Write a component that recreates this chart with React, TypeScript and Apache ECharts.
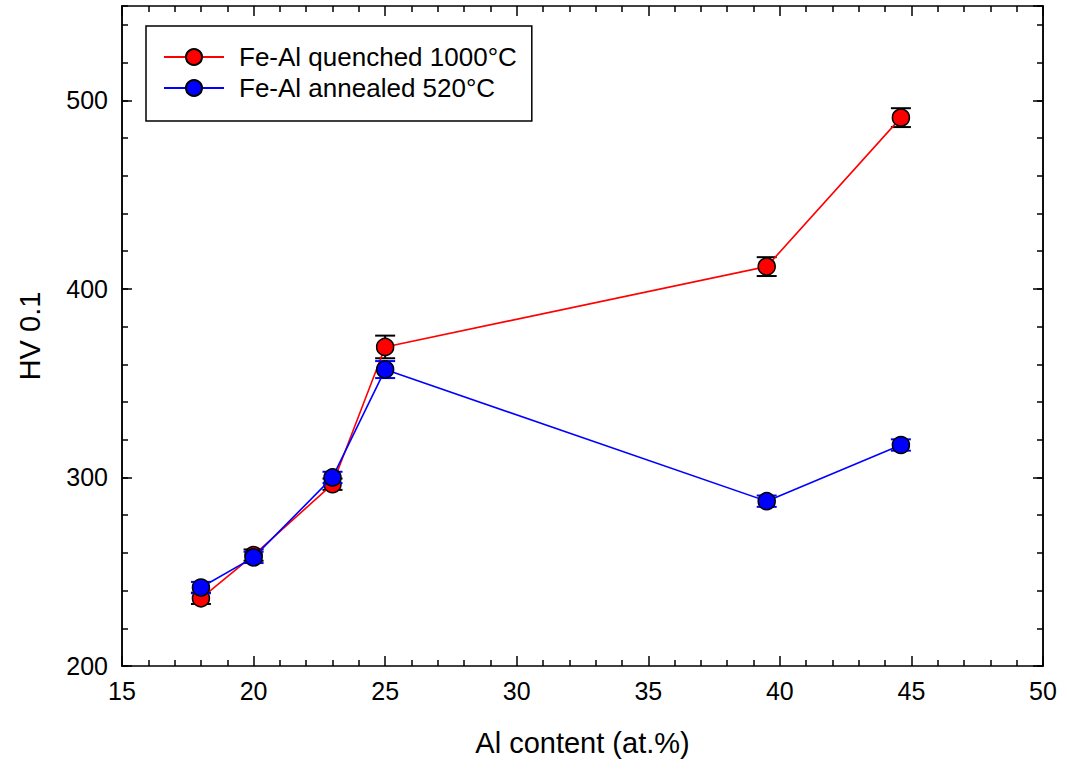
import React, { useEffect, useRef } from "react";
import * as echarts from "echarts";

// Al content (at.%) of the measured alloys
const alContent = [18, 20, 23, 25, 39.5, 44.6];

// Vickers hardness HV 0.1 and standard deviations
const quenchedHV = [235.9, 258.8, 296.4, 369.2, 411.8, 490.8];
const quenchedErr = [3, 3, 3, 6, 5, 5];
const annealedHV = [241.6, 257.6, 300.0, 357.2, 287.4, 317.2];
const annealedErr = [3, 3, 3, 4.5, 3, 3];

const quenchedName = "Fe-Al quenched 1000°C";
const annealedName = "Fe-Al annealed 520°C";

const FONT = "Liberation Sans, Arial, sans-serif";

function errorData(y: number[], err: number[]) {
  return alContent.map((x, i) => [x, y[i] - err[i], y[i] + err[i]]);
}

function errorSeries(name: string, y: number[], err: number[], color: string, z: number) {
  return {
    type: "custom",
    name: name + " error",
    z,
    silent: true,
    data: errorData(y, err),
    encode: { x: 0, y: [1, 2] },
    renderItem: (params: any, api: any) => {
      const x = api.value(0);
      const lo = api.coord([x, api.value(1)]);
      const hi = api.coord([x, api.value(2)]);
      const half = 10;
      const style = { stroke: color, lineWidth: 2 };
      return {
        type: "group",
        children: [
          { type: "line", shape: { x1: lo[0], y1: lo[1], x2: hi[0], y2: hi[1] }, style },
          { type: "line", shape: { x1: lo[0] - half, y1: lo[1], x2: lo[0] + half, y2: lo[1] }, style },
          { type: "line", shape: { x1: hi[0] - half, y1: hi[1], x2: hi[0] + half, y2: hi[1] }, style },
        ],
      };
    },
  };
}

function lineSeries(name: string, y: number[], color: string, z: number) {
  return {
    type: "line",
    name,
    z,
    data: alContent.map((x, i) => [x, y[i]]),
    symbol: "circle",
    symbolSize: 17,
    lineStyle: { color, width: 1.6 },
    itemStyle: { color, borderColor: "#000", borderWidth: 1.5 },
  };
}

const frame = { show: true, lineStyle: { color: "#000", width: 1.5 } };

export default function App() {
  const ref = useRef<HTMLDivElement>(null);

  useEffect(() => {
    if (!ref.current) return;
    const chart = echarts.init(ref.current, undefined, { renderer: "svg" });

    const yBase = { type: "value", min: 200, max: 550, axisLine: frame, splitLine: { show: false } };

    chart.setOption({
      animation: false,
      backgroundColor: "#fff",
      textStyle: { fontFamily: FONT },
      grid: { left: 122, right: 24, top: 6, bottom: 103, containLabel: false },
      legend: {
        data: [quenchedName, annealedName],
        orient: "vertical",
        left: 146,
        top: 26,
        padding: [18, 15, 20, 17],
        itemGap: 5,
        itemWidth: 60,
        itemHeight: 20,
        borderColor: "#000",
        borderWidth: 1.5,
        backgroundColor: "#fff",
        textStyle: { fontFamily: FONT, fontSize: 26, color: "#000", padding: [0, 0, 0, 10] },
      },
      xAxis: [
        {
          type: "value",
          min: 15,
          max: 50,
          interval: 5,
          position: "bottom",
          name: "Al content (at.%)",
          nameLocation: "middle",
          nameGap: 62,
          nameTextStyle: { fontFamily: FONT, fontSize: 29, color: "#000" },
          axisLine: frame,
          axisTick: { inside: true, length: 10, lineStyle: { color: "#000", width: 1.5 } },
          minorTick: { show: true, splitNumber: 5, length: 6, lineStyle: { color: "#000", width: 1.5 } },
          axisLabel: { fontFamily: FONT, fontSize: 25, color: "#000", margin: 12 },
          splitLine: { show: false },
        },
        {
          type: "value",
          min: 15,
          max: 50,
          interval: 5,
          position: "top",
          axisLine: frame,
          axisTick: { inside: true, length: 10, lineStyle: { color: "#000", width: 1.5 } },
          minorTick: { show: true, splitNumber: 5, length: 6, lineStyle: { color: "#000", width: 1.5 } },
          axisLabel: { show: false },
          splitLine: { show: false },
        },
      ],
      yAxis: [
        {
          ...yBase,
          interval: 100,
          position: "left",
          name: "HV 0.1",
          nameLocation: "middle",
          nameGap: 78,
          nameTextStyle: { fontFamily: FONT, fontSize: 29, color: "#000" },
          axisTick: { inside: true, length: 10, lineStyle: { color: "#000", width: 1.5 } },
          axisLabel: { fontFamily: FONT, fontSize: 25, color: "#000", margin: 14, showMaxLabel: false },
        },
        {
          ...yBase,
          interval: 20,
          position: "left",
          axisTick: { inside: true, length: 6, lineStyle: { color: "#000", width: 1.5 } },
          axisLabel: { show: false },
        },
        {
          ...yBase,
          interval: 100,
          position: "right",
          axisTick: { inside: true, length: 10, lineStyle: { color: "#000", width: 1.5 } },
          axisLabel: { show: false },
        },
        {
          ...yBase,
          interval: 20,
          position: "right",
          axisTick: { inside: true, length: 6, lineStyle: { color: "#000", width: 1.5 } },
          axisLabel: { show: false },
        },
      ],
      series: [
        errorSeries(quenchedName, quenchedHV, quenchedErr, "#000", 1),
        lineSeries(quenchedName, quenchedHV, "#ff0000", 2),
        errorSeries(annealedName, annealedHV, annealedErr, "#0000ff", 3),
        lineSeries(annealedName, annealedHV, "#0000ff", 4),
      ],
    });

    return () => chart.dispose();
  }, []);

  return (
    <div
      ref={ref}
      style={{ position: "fixed", left: 0, top: 0, width: 1067, height: 769, background: "#fff" }}
    />
  );
}
